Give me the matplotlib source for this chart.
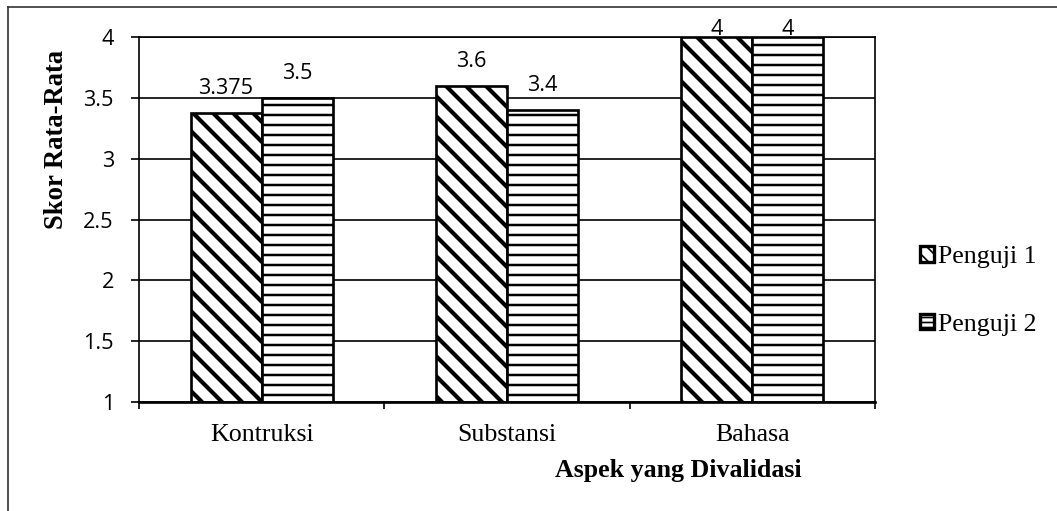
import numpy as np
import matplotlib.pyplot as plt
from matplotlib.lines import Line2D
from matplotlib.patches import Patch

# Data
categories = ["Kontruksi", "Substansi", "Bahasa"]
penguji_1 = [3.375, 3.6, 4]
penguji_2 = [3.5, 3.4, 4]
series_names = ["Penguji 1", "Penguji 2"]
value_labels_1 = ["3.375", "3.6", "4"]
value_labels_2 = ["3.5", "3.4", "4"]
y_ticks = [1, 1.5, 2, 2.5, 3, 3.5, 4]

plt.rcParams['hatch.color'] = 'black'

DPI = 120
fig = plt.figure(figsize=(1057 / DPI, 511 / DPI), dpi=DPI)
ax = fig.add_axes([139 / 1057, 1 - 402 / 511, (875 - 139) / 1057, (402 - 37) / 511])

x = np.arange(len(categories))
w = 0.29

# Gridlines behind bars
for t in y_ticks:
    ax.axhline(t, color='black', lw=1.0, zorder=0)

with plt.rc_context({'hatch.linewidth': 2.5}):
    b1 = ax.bar(x - w / 2, np.array(penguji_1) - 1, w, bottom=1, color='white',
                edgecolor='black', lw=1.6, hatch='\\\\', label=series_names[0], zorder=2)
with plt.rc_context({'hatch.linewidth': 1.5}):
    b2 = ax.bar(x + w / 2, np.array(penguji_2) - 1, w, bottom=1, color='white',
                edgecolor='black', lw=1.6, hatch='--', label=series_names[1], zorder=2)

# Value labels (kept inside the chart area, like Excel does)
def label_y(v):
    return min(v + 0.156, 4.016)

for xi, v, s in zip(x - w / 2, penguji_1, value_labels_1):
    ax.text(xi, label_y(v), s, ha='center', va='baseline', fontsize=13,
            family='Open Sans', clip_on=False)
for xi, v, s in zip(x + w / 2, penguji_2, value_labels_2):
    ax.text(xi, label_y(v), s, ha='center', va='baseline', fontsize=13,
            family='Open Sans', clip_on=False)

ax.set_xlim(-0.5, 2.5)
ax.set_ylim(1, 4)
ax.set_yticks(y_ticks)
ax.set_yticklabels([f"{t:g}" for t in y_ticks], family='Open Sans', fontsize=13)
ax.tick_params(axis='y', length=5, width=1.0, pad=10, direction='out')

ax.set_xticks(x)
ax.set_xticklabels(categories, family='Liberation Serif', fontsize=15.5)
ax.set_xticks(np.arange(-0.5, 3, 1), minor=True)
ax.tick_params(axis='x', which='major', length=0, pad=13)
ax.tick_params(axis='x', which='minor', length=4, width=1.0, direction='out')

for side in ['left', 'right', 'top']:
    ax.spines[side].set_linewidth(1.0)
ax.spines['bottom'].set_linewidth(1.6)

# Axis titles
fig.text(678 / 1057, 1 - 470 / 511, "Aspek yang Divalidasi", ha='center', va='center',
         family='Liberation Serif', fontweight='bold', fontsize=15.5)
fig.text(57 / 1057, 1 - 139 / 511, "Skor Rata-Rata", ha='center', va='center',
         rotation=90, family='Liberation Serif', fontweight='bold', fontsize=16)

# Legend (small swatches look nearly solid in the original)
with plt.rc_context({'hatch.linewidth': 3.0}):
    h1 = Patch(facecolor='white', edgecolor='black', lw=2.0, hatch='\\\\\\')
    h2 = Patch(facecolor='white', edgecolor='black', lw=2.0, hatch='----')
leg = fig.legend(handles=[h1, h2], labels=series_names, loc='center left',
                 bbox_to_anchor=(920 / 1057, 1 - 291 / 511), frameon=False,
                 prop={'family': 'Liberation Serif', 'size': 15.5},
                 handlelength=0.55, handleheight=0.55, handletextpad=0.15,
                 labelspacing=1.75, borderpad=0, borderaxespad=0)

# Outer chart border
fig.add_artist(Line2D([8 / 1057, 1], [1 - 7 / 511] * 2, color='#333333', lw=1.0))
fig.add_artist(Line2D([8 / 1057] * 2, [0, 1 - 7 / 511], color='#333333', lw=1.0))

plt.savefig("out.png", dpi=DPI)
